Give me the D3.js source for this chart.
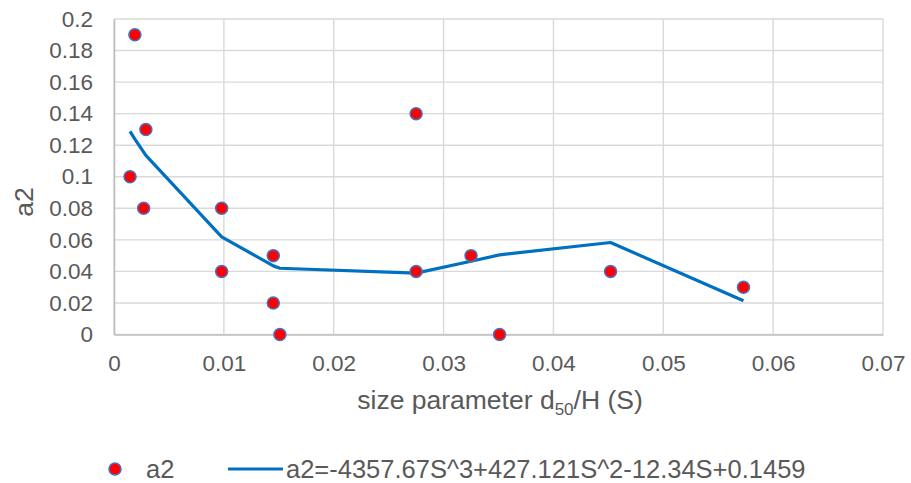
<!DOCTYPE html>
<html>
<head>
<meta charset="utf-8">
<script src="https://cdn.jsdelivr.net/npm/d3@7/dist/d3.min.js"></script>
<style>
  html, body { margin: 0; padding: 0; background: #fff; }
  svg { display: block; font-family: "Liberation Sans", Arial, sans-serif; }
</style>
</head>
<body>
<svg id="chart" width="911" height="483"></svg>
<script>
// Measured a2 values against size parameter S = d50/H
const sValues = [0.0019, 0.0029, 0.00146, 0.0027, 0.0098, 0.0098, 0.0145, 0.0145, 0.0151, 0.0275, 0.0275, 0.0325, 0.0351, 0.0452, 0.0573];
const a2Values = [0.19, 0.13, 0.10, 0.08, 0.08, 0.04, 0.05, 0.02, 0.0, 0.14, 0.04, 0.05, 0.0, 0.04, 0.03];

// Cubic trend values at the sampled S positions
const fitS = [0.00146, 0.0019, 0.0027, 0.0029, 0.0098, 0.0145, 0.0151, 0.0275, 0.0325, 0.0351, 0.0452, 0.0573];
const fitA2 = [0.1288, 0.1239, 0.1156, 0.1136, 0.0619, 0.0435, 0.0420, 0.0389, 0.0464, 0.0505, 0.0583, 0.0214];

const xTicks = [0, 0.01, 0.02, 0.03, 0.04, 0.05, 0.06, 0.07];
const yTicks = [0, 0.02, 0.04, 0.06, 0.08, 0.1, 0.12, 0.14, 0.16, 0.18, 0.2];

const seriesName = "a2";
const fitLabel = "a2=-4357.67S^3+427.121S^2-12.34S+0.1459";

const svg = d3.select("#chart");
const plot = { left: 114, right: 883, top: 19, bottom: 334.5 };

const x = d3.scaleLinear().domain([0, 0.07]).range([plot.left, plot.right]);
const y = d3.scaleLinear().domain([0, 0.2]).range([plot.bottom, plot.top]);

const textColor = "#595959";
const gridColor = "#d9d9d9";
const axisColor = "#bfbfbf";
const tickFont = 22.5;
const titleFont = 26.5;

// Gridlines
svg.append("g")
  .selectAll("line")
  .data(yTicks)
  .join("line")
  .attr("x1", plot.left).attr("x2", plot.right)
  .attr("y1", d => y(d)).attr("y2", d => y(d))
  .attr("stroke", gridColor).attr("stroke-width", 1.4);

svg.append("g")
  .selectAll("line")
  .data(xTicks)
  .join("line")
  .attr("y1", plot.top).attr("y2", plot.bottom)
  .attr("x1", d => x(d)).attr("x2", d => x(d))
  .attr("stroke", gridColor).attr("stroke-width", 1.4);

// Axes
const fmt = d => String(+d.toFixed(2));

const xAxis = svg.append("g")
  .attr("transform", `translate(0,${plot.bottom})`)
  .call(d3.axisBottom(x).tickValues(xTicks).tickSize(0).tickPadding(21).tickFormat(fmt));
xAxis.select(".domain").attr("stroke", axisColor).attr("stroke-width", 1.6);
xAxis.selectAll("text").attr("fill", textColor).attr("font-size", tickFont)
  .attr("font-family", "Liberation Sans, Arial, sans-serif");

const yAxis = svg.append("g")
  .attr("transform", `translate(${plot.left},0)`)
  .call(d3.axisLeft(y).tickValues(yTicks).tickSize(0).tickPadding(21).tickFormat(fmt));
yAxis.select(".domain").attr("stroke", axisColor).attr("stroke-width", 1.6);
yAxis.selectAll("text").attr("fill", textColor).attr("font-size", tickFont)
  .attr("font-family", "Liberation Sans, Arial, sans-serif");

// Axis titles
const xTitle = svg.append("text")
  .attr("x", 500)
  .attr("y", 409)
  .attr("text-anchor", "middle")
  .attr("fill", textColor)
  .attr("font-size", titleFont);
xTitle.append("tspan").text("size parameter d");
xTitle.append("tspan").attr("font-size", 17).attr("dy", 6).text("50");
xTitle.append("tspan").attr("dy", -6).text("/H (S)");

svg.append("text")
  .attr("transform", "translate(33,202) rotate(-90)")
  .attr("text-anchor", "middle")
  .attr("fill", textColor)
  .attr("font-size", titleFont)
  .text(seriesName);

// Trend line
const line = d3.line().x(d => x(d[0])).y(d => y(d[1]));
svg.append("path")
  .datum(fitS.map((s, i) => [s, fitA2[i]]))
  .attr("d", line)
  .attr("fill", "none")
  .attr("stroke", "#0070C0")
  .attr("stroke-width", 3.2)
  .attr("stroke-linejoin", "round");

// Data points
svg.append("g")
  .selectAll("circle")
  .data(sValues.map((s, i) => [s, a2Values[i]]))
  .join("circle")
  .attr("cx", d => x(d[0]))
  .attr("cy", d => y(d[1]))
  .attr("r", 6)
  .attr("fill", "#FF0000")
  .attr("stroke", "#4472C4")
  .attr("stroke-width", 1.5);

// Legend
const legendY = 469;
const legendFont = 25.5;
const legend = svg.append("g");
legend.append("circle")
  .attr("cx", 115).attr("cy", legendY).attr("r", 6)
  .attr("fill", "#FF0000").attr("stroke", "#4472C4").attr("stroke-width", 1.5);
legend.append("text")
  .attr("x", 146).attr("y", legendY).attr("dy", "0.35em")
  .attr("fill", textColor).attr("font-size", legendFont)
  .text(seriesName);
legend.append("line")
  .attr("x1", 228).attr("x2", 283)
  .attr("y1", legendY).attr("y2", legendY)
  .attr("stroke", "#0070C0").attr("stroke-width", 3.2);
legend.append("text")
  .attr("x", 286).attr("y", legendY).attr("dy", "0.35em")
  .attr("fill", textColor).attr("font-size", legendFont)
  .text(fitLabel);
</script>
</body>
</html>
